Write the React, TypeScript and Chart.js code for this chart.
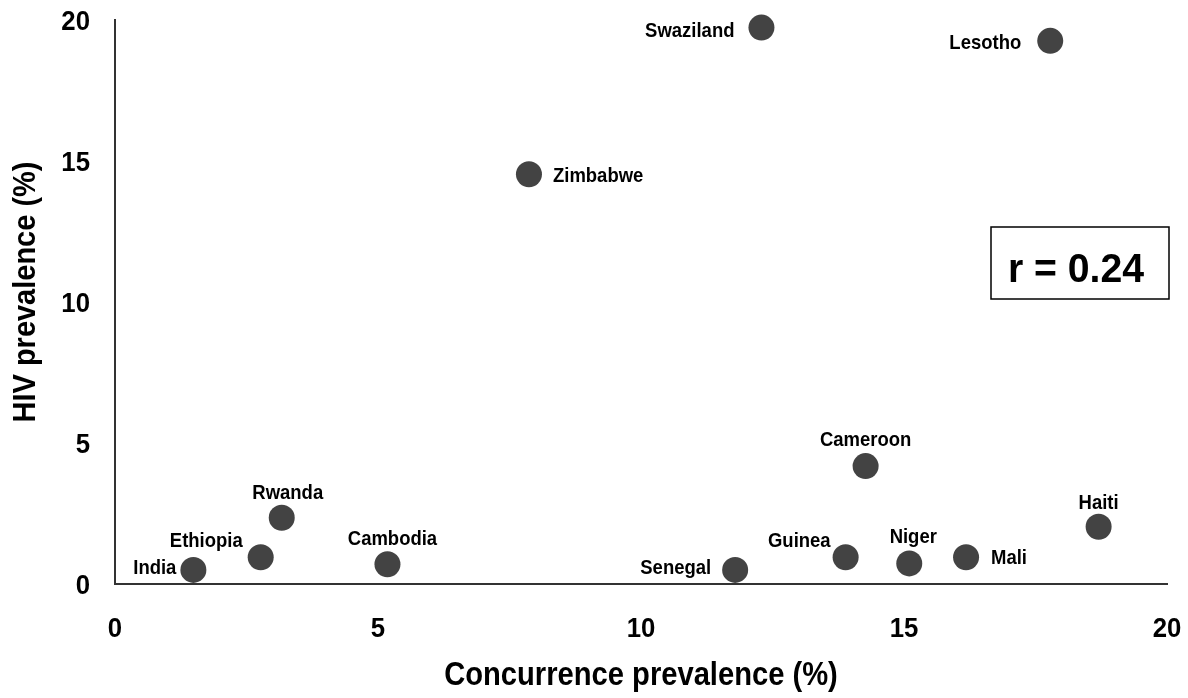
import React, { useEffect, useRef } from "react";
import { Chart, registerables } from "chart.js";

Chart.register(...registerables);

// Country-level survey results
const countries = [
  "India", "Ethiopia", "Rwanda", "Cambodia", "Zimbabwe", "Swaziland", "Lesotho",
  "Senegal", "Guinea", "Cameroon", "Niger", "Mali", "Haiti",
];
const concurrencePrevalence = [1.49, 2.77, 3.17, 5.18, 7.87, 12.29, 17.78, 11.79, 13.89, 14.27, 15.1, 16.18, 18.7];
const hivPrevalence = [0.5, 0.95, 2.35, 0.7, 14.53, 19.73, 19.26, 0.5, 0.95, 4.18, 0.73, 0.95, 2.03];

const xTickValues = [0, 5, 10, 15, 20];
const yTickValues = [0, 5, 10, 15, 20];
const xAxisTitle = "Concurrence prevalence (%)";
const yAxisTitle = "HIV prevalence (%)";
const correlationLabel = "r = 0.24";

// Label placement relative to each marker: anchor alignment and offsets in px
const labelAlign: CanvasTextAlign[] = [
  "right", "right", "center", "center", "left", "right", "right",
  "right", "right", "center", "center", "left", "center",
];
const labelDx = [-17, -18, 6, 5, 24, -27, -29, -24, -15, 0, 4, 25, 0];
const labelDy = [-2, -16, -25, -25, 2, 4, 2, -2, -16, -26, -26, 1, -24];

const FONT_FAMILY = "'Liberation Sans', Arial, sans-serif";
const MARKER_COLOR = "#434343";
const AXIS_COLOR = "#333";

// Bold text with a horizontal squeeze, giving a narrow face
function drawText(
  ctx: CanvasRenderingContext2D,
  text: string,
  x: number,
  y: number,
  size: number,
  squeeze: number,
  align: CanvasTextAlign,
  baseline: CanvasTextBaseline,
  rotation = 0
) {
  ctx.save();
  ctx.translate(x, y);
  if (rotation) ctx.rotate(rotation);
  ctx.scale(squeeze, 1);
  ctx.font = `bold ${size}px ${FONT_FAMILY}`;
  ctx.fillStyle = "#000";
  ctx.textAlign = align;
  ctx.textBaseline = baseline;
  ctx.fillText(text, 0, 0);
  ctx.restore();
}

const textLayerPlugin = {
  id: "textLayer",
  afterDraw(chart: any) {
    const { ctx, chartArea, scales } = chart;
    const xs = scales.x;
    const ys = scales.y;

    // tick labels
    xTickValues.forEach((v) => {
      drawText(ctx, String(v), xs.getPixelForValue(v), chartArea.bottom + 53, 28, 0.92, "center", "alphabetic");
    });
    yTickValues.forEach((v) => {
      drawText(ctx, String(v), chartArea.left - 25, ys.getPixelForValue(v) + 10, 28, 0.92, "right", "alphabetic");
    });

    // axis titles
    drawText(ctx, xAxisTitle, (chartArea.left + chartArea.right) / 2, 685, 33.5, 0.87, "center", "alphabetic");
    drawText(ctx, yAxisTitle, 35, (chartArea.top + chartArea.bottom) / 2 - 10, 30.5, 0.95, "center", "alphabetic", -Math.PI / 2);

    // point labels
    const meta = chart.getDatasetMeta(0);
    meta.data.forEach((pt: any, i: number) => {
      drawText(ctx, countries[i], pt.x + labelDx[i], pt.y + labelDy[i], 21, 0.88, labelAlign[i], "middle");
    });

    // correlation box
    const w = 178;
    const h = 72;
    const bx = chartArea.right + 2 - w;
    const by = chartArea.top + 207;
    ctx.save();
    ctx.strokeStyle = "#000";
    ctx.lineWidth = 1.5;
    ctx.strokeRect(bx, by, w, h);
    ctx.restore();
    drawText(ctx, correlationLabel, bx + w / 2 - 4, by + h / 2 + 19, 40, 0.98, "center", "alphabetic");
  },
};

export default function App() {
  const canvasRef = useRef<HTMLCanvasElement | null>(null);

  useEffect(() => {
    if (!canvasRef.current) return;

    const chart = new Chart(canvasRef.current, {
      type: "scatter",
      data: {
        datasets: [
          {
            data: concurrencePrevalence.map((x, i) => ({ x, y: hivPrevalence[i] })),
            backgroundColor: MARKER_COLOR,
            borderWidth: 0,
            pointRadius: 13,
            pointHoverRadius: 13,
            clip: false,
          },
        ],
      },
      options: {
        animation: false,
        responsive: false,
        maintainAspectRatio: false,
        layout: { padding: { top: 20, right: 21, left: 0, bottom: 0 } },
        plugins: { legend: { display: false }, tooltip: { enabled: false } },
        scales: {
          x: {
            type: "linear",
            min: 0,
            max: 20,
            afterBuildTicks: (s: any) => {
              s.ticks = xTickValues.map((v) => ({ value: v }));
            },
            afterFit: (s: any) => {
              s.height = 114;
            },
            grid: { display: false, drawTicks: false },
            border: { display: true, color: AXIS_COLOR, width: 2 },
            ticks: { display: false },
            title: { display: false },
          },
          y: {
            type: "linear",
            min: 0,
            max: 20,
            afterBuildTicks: (s: any) => {
              s.ticks = yTickValues.map((v) => ({ value: v }));
            },
            afterFit: (s: any) => {
              s.width = 115;
            },
            grid: { display: false, drawTicks: false },
            border: { display: true, color: AXIS_COLOR, width: 2 },
            ticks: { display: false },
            title: { display: false },
          },
        },
      },
      plugins: [textLayerPlugin],
    });

    return () => chart.destroy();
  }, []);

  return (
    <div style={{ position: "fixed", left: 0, top: 0, width: 1188, height: 698, background: "#fff" }}>
      <canvas ref={canvasRef} width={1188} height={698} />
    </div>
  );
}
